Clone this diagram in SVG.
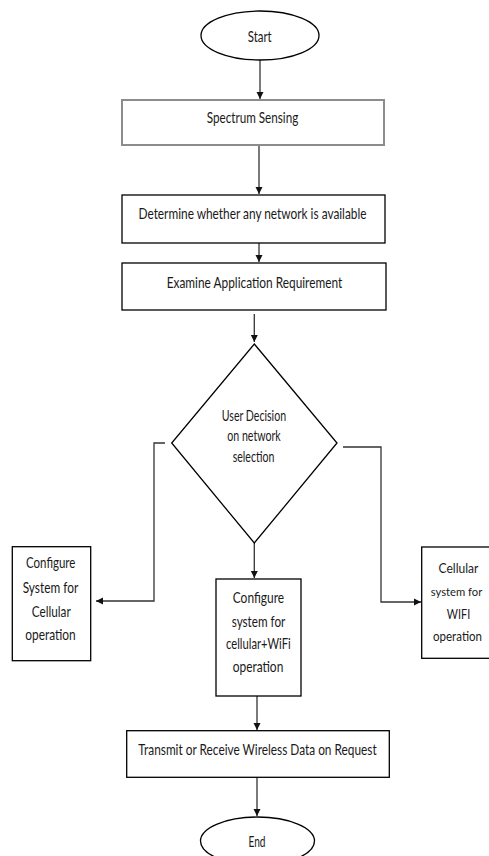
<svg xmlns="http://www.w3.org/2000/svg" width="489" height="856" viewBox="0 0 489 856">
<defs>
<style>
.sh{fill:#fff;stroke:#000;stroke-width:1.3}
.t{font-family:Lato,"Open Sans","Liberation Sans",sans-serif;font-size:15px;fill:#1a1a1a;text-anchor:middle}
.r{font-size:13px}
.c{fill:none;stroke:#333;stroke-width:1.3}
</style>
<marker id="ah" markerWidth="8" markerHeight="8" refX="7" refY="4" orient="auto" markerUnits="userSpaceOnUse">
<path d="M0,0.5 L7,4 L0,7.5 Z" fill="#111"/>
</marker>
</defs>
<rect width="489" height="856" fill="#fff"/>
<g id="connectors">
<path class="c" d="M260,60 V99" marker-end="url(#ah)"/>
<path class="c" d="M259,145 V194" marker-end="url(#ah)"/>
<path class="c" d="M259,243 V262" marker-end="url(#ah)"/>
<path class="c" d="M254.3,314 V342" marker-end="url(#ah)"/>
<path class="c" d="M165,443 H154 V601 H96" marker-end="url(#ah)"/>
<path class="c" d="M254.3,543 V578" marker-end="url(#ah)"/>
<path class="c" d="M343,447 H381 V602 H421" marker-end="url(#ah)"/>
<path class="c" d="M257,696 V730" marker-end="url(#ah)"/>
<path class="c" d="M257,777 V816" marker-end="url(#ah)"/>
</g>
<g id="start">
<ellipse class="sh" cx="260" cy="35.5" rx="59" ry="24.5"/>
<text class="t" x="259.7" y="42" textLength="24" lengthAdjust="spacingAndGlyphs">Start</text>
</g>
<g id="spectrum">
<rect x="122" y="100" width="262" height="45" fill="#fff" stroke="#8c8c8c" stroke-width="2"/>
<text class="t" x="252.5" y="123.3" textLength="91.6" lengthAdjust="spacingAndGlyphs">Spectrum Sensing</text>
</g>
<g id="determine">
<rect class="sh" x="122" y="195" width="263" height="48"/>
<text class="t" x="252.5" y="219" textLength="228" lengthAdjust="spacingAndGlyphs">Determine whether any network is available</text>
</g>
<g id="examine">
<rect class="sh" x="122" y="263" width="264" height="47"/>
<text class="t" x="254.5" y="287.7" textLength="175.6" lengthAdjust="spacingAndGlyphs">Examine Application Requirement</text>
</g>
<g id="decision">
<polygon class="sh" points="254.3,344 337,443 254.3,543 171.7,443"/>
<text class="t" x="253.9" y="420.7" textLength="64.3" lengthAdjust="spacingAndGlyphs">User Decision</text>
<text class="t" x="254" y="441" textLength="53.4" lengthAdjust="spacingAndGlyphs">on network</text>
<text class="t" x="253.5" y="462.3" textLength="41.6" lengthAdjust="spacingAndGlyphs">selection</text>
</g>
<g id="cellular">
<rect class="sh" x="12.3" y="546.7" width="78.4" height="114"/>
<text class="t" x="50.7" y="568.3" textLength="49.3" lengthAdjust="spacingAndGlyphs">Configure</text>
<text class="t" x="50.5" y="593.3" textLength="55.6" lengthAdjust="spacingAndGlyphs">System for</text>
<text class="t" x="51.2" y="617.3" textLength="39" lengthAdjust="spacingAndGlyphs">Cellular</text>
<text class="t" x="50.5" y="640" textLength="50.4" lengthAdjust="spacingAndGlyphs">operation</text>
</g>
<g id="cellwifi">
<rect class="sh" x="216" y="579" width="85" height="117"/>
<text class="t" x="258.4" y="602.7" textLength="51.3" lengthAdjust="spacingAndGlyphs">Configure</text>
<text class="t" x="258.5" y="626.7" textLength="53.6" lengthAdjust="spacingAndGlyphs">system for</text>
<text class="t" x="258.4" y="649.3" textLength="64.7" lengthAdjust="spacingAndGlyphs">cellular+WiFi</text>
<text class="t" x="258" y="671.7" textLength="50.6" lengthAdjust="spacingAndGlyphs">operation</text>
</g>
<g id="wifi">
<rect class="sh" x="421.7" y="547" width="75" height="111.3"/>
<text class="t r" x="458.5" y="573.3" textLength="40" lengthAdjust="spacingAndGlyphs">Cellular</text>
<text class="t r" x="456.5" y="596" textLength="51.5" lengthAdjust="spacingAndGlyphs" style="font-size:12px">system for</text>
<text class="t r" x="458.5" y="619" textLength="23.3" lengthAdjust="spacingAndGlyphs">WIFI</text>
<text class="t r" x="457.5" y="641" textLength="49" lengthAdjust="spacingAndGlyphs">operation</text>
</g>
<g id="transmit">
<rect class="sh" x="126.7" y="730.7" width="262.6" height="46.6"/>
<text class="t" x="257.5" y="755" textLength="238.3" lengthAdjust="spacingAndGlyphs">Transmit or Receive Wireless Data on Request</text>
</g>
<g id="end">
<ellipse class="sh" cx="257.5" cy="841" rx="57" ry="24"/>
<text class="t" x="257" y="847" textLength="17" lengthAdjust="spacingAndGlyphs">End</text>
</g>
</svg>
